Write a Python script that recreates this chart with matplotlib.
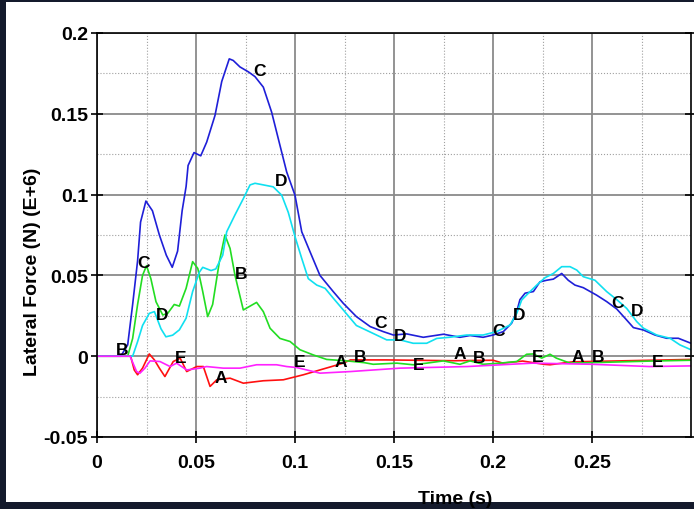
import numpy as np
import matplotlib.pyplot as plt
from matplotlib.patches import Rectangle
from matplotlib.ticker import MultipleLocator

plt.rcParams['font.family'] = ['Liberation Sans', 'DejaVu Sans']

# A (red)
t_a = [0, 0.017, 0.0188, 0.0205, 0.023, 0.0264, 0.029, 0.0315, 0.0343, 0.0385, 0.042,
       0.0453, 0.0504, 0.0537, 0.0571, 0.0605, 0.0672, 0.0739, 0.084, 0.0941, 0.1042,
       0.1126, 0.1244, 0.128, 0.146, 0.16, 0.18, 0.2, 0.205, 0.215, 0.2256, 0.2288,
       0.24, 0.26, 0.28, 0.3]
y_a = [0, 0, -0.0085, -0.0115, -0.0074, 0.0014, -0.0023, -0.0074, -0.0126, -0.0033, -0.0012,
       -0.0095, -0.0064, -0.0064, -0.0187, -0.0146, -0.0136, -0.0167, -0.0152, -0.0146, -0.0115,
       -0.0085, -0.0043, -0.0023, -0.0023, -0.0025, -0.0028, -0.0025, -0.0043, -0.0030, -0.005, -0.0053,
       -0.0035, -0.0030, -0.0025, -0.0020]

# B (green)
t_b = [0, 0.0155, 0.018, 0.0205, 0.023, 0.025, 0.0272, 0.0298, 0.0332, 0.0357, 0.039,
       0.0416, 0.045, 0.0483, 0.0509, 0.0534, 0.0559, 0.0584, 0.0618, 0.0646, 0.0672,
       0.0697, 0.0739, 0.0773, 0.0806, 0.084, 0.0874, 0.0924, 0.0975, 0.1025, 0.1092,
       0.116, 0.1261, 0.135, 0.1395, 0.1514, 0.1597, 0.1665, 0.1749, 0.1833, 0.1884,
       0.195, 0.2035, 0.212, 0.217, 0.2204, 0.2246, 0.2288, 0.232, 0.2389, 0.25, 0.265,
       0.28, 0.3]
y_b = [0, 0, 0.011, 0.032, 0.050, 0.056, 0.048, 0.0337, 0.0255, 0.0265, 0.032,
       0.031, 0.042, 0.0585, 0.0543, 0.040, 0.0245, 0.032, 0.0585, 0.075, 0.0667,
       0.050, 0.0286, 0.031, 0.0333, 0.0276, 0.0173, 0.011, 0.0091, 0.004, 0.0008,
       -0.002, -0.0029, -0.0040, -0.005, -0.0043, -0.0053, -0.0043, -0.0029, -0.005, -0.0029,
       -0.005, -0.0043, -0.0033, 0.0012, 0.0014, -0.0012, 0.0012, -0.0012, -0.0043, -0.0040, -0.0035,
       -0.0030, -0.0025]

# C (blue)
t_c = [0, 0.012, 0.0155, 0.018, 0.0205, 0.022, 0.0247, 0.028, 0.0315, 0.035, 0.038,
       0.0407, 0.043, 0.045, 0.046, 0.049, 0.0524, 0.0554, 0.0596, 0.063, 0.0668,
       0.0688, 0.0722, 0.0764, 0.0798, 0.084, 0.0882, 0.0924, 0.0958, 0.100, 0.1034,
       0.1076, 0.1126, 0.1193, 0.1244, 0.131, 0.138, 0.1446, 0.1497, 0.1564, 0.1648,
       0.175, 0.1833, 0.1884, 0.195, 0.200, 0.2052, 0.2094, 0.212, 0.2136, 0.2162,
       0.2204, 0.2237, 0.2271, 0.2305, 0.2347, 0.238, 0.2414, 0.2456, 0.2523, 0.2574,
       0.2625, 0.2667, 0.2709, 0.276, 0.2818, 0.2877, 0.2936, 0.3]
y_c = [0, 0, 0.007, 0.032, 0.059, 0.083, 0.096, 0.090, 0.075, 0.0625, 0.055,
       0.065, 0.090, 0.105, 0.118, 0.126, 0.124, 0.1325, 0.149, 0.170, 0.184,
       0.183, 0.179, 0.176, 0.173, 0.1665, 0.151, 0.1305, 0.114, 0.0996, 0.077,
       0.0646, 0.050, 0.040, 0.0327, 0.0245, 0.0183, 0.0152, 0.0131, 0.0138, 0.0117,
       0.0136, 0.0117, 0.0128, 0.0117, 0.0131, 0.0152, 0.0204, 0.0276, 0.035, 0.039,
       0.040, 0.046, 0.047, 0.0477, 0.0512, 0.047, 0.044, 0.0424, 0.0378, 0.0338,
       0.0292, 0.0235, 0.0177, 0.0162, 0.0131, 0.0111, 0.0111, 0.008]

# D (cyan)
t_d = [0, 0.018, 0.0205, 0.023, 0.0264, 0.029, 0.0323, 0.0348, 0.0382, 0.0416, 0.045,
       0.0483, 0.0517, 0.0534, 0.0576, 0.060, 0.0635, 0.0655, 0.0697, 0.0739, 0.0773,
       0.0798, 0.0832, 0.089, 0.0933, 0.0966, 0.100, 0.1034, 0.1067, 0.111, 0.1152,
       0.1194, 0.1244, 0.131, 0.1379, 0.1463, 0.153, 0.1597, 0.1665, 0.1716, 0.178,
       0.1867, 0.195, 0.2018, 0.2086, 0.212, 0.2145, 0.2179, 0.2221, 0.2263, 0.2305,
       0.2347, 0.2389, 0.2423, 0.2456, 0.2515, 0.2574, 0.2625, 0.2675, 0.2726, 0.276,
       0.2827, 0.2894, 0.2944, 0.3]
y_d = [0, 0, 0.009, 0.019, 0.0265, 0.0276, 0.017, 0.012, 0.013, 0.0163, 0.0235,
       0.040, 0.052, 0.055, 0.053, 0.054, 0.0625, 0.077, 0.0875, 0.0975, 0.106,
       0.107, 0.1062, 0.1048, 0.0996, 0.089, 0.074, 0.0605, 0.048, 0.044, 0.042,
       0.0358, 0.0286, 0.019, 0.015, 0.0101, 0.0101, 0.008, 0.008, 0.011, 0.0117,
       0.0131, 0.0131, 0.0152, 0.0193, 0.0265, 0.0348, 0.039, 0.044, 0.0486, 0.0512,
       0.0554, 0.0554, 0.0533, 0.0492, 0.047, 0.040, 0.035, 0.0296, 0.0214, 0.0173,
       0.0131, 0.0111, 0.007, 0.004]

# E (magenta)
t_e = [0, 0.0167, 0.020, 0.0217, 0.0242, 0.0268, 0.0318, 0.0369, 0.0402, 0.0453, 0.052,
       0.0553, 0.0638, 0.0722, 0.0806, 0.0907, 0.0958, 0.1008, 0.1076, 0.1126, 0.128,
       0.153, 0.187, 0.22, 0.25, 0.279, 0.3]
y_e = [0, 0, -0.0095, -0.0105, -0.0074, -0.0029, -0.0033, -0.0064, -0.0043, -0.0085, -0.0074,
       -0.0064, -0.0074, -0.0074, -0.0053, -0.0053, -0.0064, -0.0070, -0.0090, -0.0105, -0.0095,
       -0.0074, -0.0064, -0.0043, -0.0050, -0.0064, -0.0060]

# curve letters (time, value)
lab_t = {'A': [0.0626, 0.123, 0.183, 0.243],
         'B': [0.0126, 0.0727, 0.133, 0.193, 0.253],
         'C': [0.0237, 0.0823, 0.143, 0.203, 0.263],
         'D': [0.0328, 0.093, 0.153, 0.213, 0.273],
         'E': [0.042, 0.1025, 0.1626, 0.2227, 0.283]}
lab_y = {'A': [-0.0134, -0.003, 0.0016, 0.0],
         'B': [0.004, 0.051, 0.0, -0.001, 0.0],
         'C': [0.058, 0.177, 0.021, 0.016, 0.033],
         'D': [0.026, 0.109, 0.013, 0.026, 0.028],
         'E': [-0.001, -0.0034, -0.005, 0.0, -0.003]}

fig = plt.figure(figsize=(6.94, 5.10), dpi=100, facecolor='#141a2c')
fig.patches.append(Rectangle((6/694, 7/510), 1, 500/510, transform=fig.transFigure,
                             facecolor='white', edgecolor='none', zorder=-10))
ax = fig.add_axes([97/694, 72/510, 594/694, 404/510])

ax.plot(t_a, y_a, color='#ff1010', lw=1.2)
ax.plot(t_b, y_b, color='#22dd22', lw=1.2)
ax.plot(t_c, y_c, color='#1f1fd8', lw=1.2)
ax.plot(t_d, y_d, color='#10e0f0', lw=1.2)
ax.plot(t_e, y_e, color='#ff22ff', lw=1.2)

for k in lab_t:
    for tx, ty in zip(lab_t[k], lab_y[k]):
        ax.text(tx, ty, k, fontsize=12.5, fontweight='bold', ha='center', va='center', zorder=5)

ax.set_xlim(0, 0.3)
ax.set_ylim(-0.05, 0.2)
ax.xaxis.set_minor_locator(MultipleLocator(0.025))
ax.yaxis.set_minor_locator(MultipleLocator(0.025))
ax.set_xticks([0, 0.05, 0.1, 0.15, 0.2, 0.25])
ax.set_xticklabels(['0', '0.05', '0.1', '0.15', '0.2', '0.25'])
ax.set_yticks([-0.05, 0, 0.05, 0.1, 0.15, 0.2])
ax.set_yticklabels(['-0.05', '0', '0.05', '0.1', '0.15', '0.2'])
ax.grid(True, which='major', color='#8a8a8a', lw=1.3, ls='-')
ax.grid(True, which='minor', color='#a0a0a0', lw=0.8, ls=':')
ax.set_axisbelow(True)
ax.tick_params(which='major', direction='inout', length=9, width=1.2, labelsize=14, pad=2,
               right=True)
ax.tick_params(axis='x', which='major', pad=8)
ax.tick_params(which='minor', length=0)
for lb in ax.get_xticklabels() + ax.get_yticklabels():
    lb.set_fontweight('bold')
for s in ax.spines.values():
    s.set_linewidth(1.2)

ax.set_xlabel('Time (s)', fontsize=14, fontweight='bold')
ax.xaxis.set_label_coords(0.603, -0.13)
ax.set_ylabel('Lateral Force (N) (E+6)', fontsize=14, fontweight='bold')
ax.yaxis.set_label_coords(-0.095, 0.411)

fig.savefig('out.png', dpi=100, facecolor=fig.get_facecolor())
